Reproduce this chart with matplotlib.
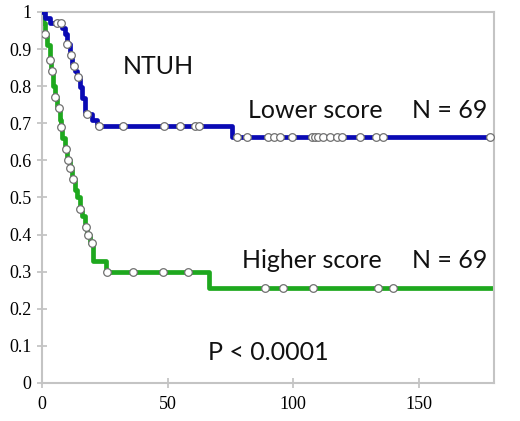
import numpy as np
import matplotlib
matplotlib.use('agg')
import matplotlib.pyplot as plt

# Kaplan-Meier steps (time, survival)
lower_t = [0, 1, 3, 8, 9, 10, 11, 12, 13, 14, 15, 16, 17, 20, 22, 75.5, 180]
lower_s = [1.0, 0.985, 0.971, 0.957, 0.942, 0.913, 0.884, 0.855, 0.841, 0.826,
           0.797, 0.768, 0.725, 0.71, 0.693, 0.664, 0.664]
lower_cens = [6, 7.6, 10, 11.4, 12.9, 14.5, 18, 22.7, 32.3, 48.7, 55, 61, 62.6,
              77.6, 81.5, 90, 92.3, 94.7, 99.5, 107.4, 108.6, 110, 111.8, 114.6,
              117.4, 119.4, 126.5, 133, 135.7, 178.3]

higher_t = [0, 0.5, 1, 2, 3, 3.5, 4.5, 5, 6, 7, 7.5, 8, 9, 10, 11, 12, 13, 14,
            15, 16, 17, 18, 19, 20.3, 25.5, 66.5, 180]
higher_s = [1.0, 0.97, 0.94, 0.91, 0.87, 0.84, 0.80, 0.77, 0.74, 0.71, 0.69, 0.66,
            0.63, 0.60, 0.58, 0.55, 0.52, 0.50, 0.47, 0.45, 0.42, 0.40, 0.377,
            0.33, 0.30, 0.256, 0.256]
higher_cens = [1.2, 3.2, 4, 5.2, 6.8, 7.6, 9.5, 10.3, 11.1, 12.5, 15.1, 17.5,
               18.3, 19.9, 25.8, 36.3, 48, 58, 89, 96, 108, 134, 139.7]

x_ticks = [0, 50, 100, 150]
y_ticks = [0, 0.1, 0.2, 0.3, 0.4, 0.5, 0.6, 0.7, 0.8, 0.9, 1]
y_labels = ['0', '0.1', '0.2', '0.3', '0.4', '0.5', '0.6', '0.7', '0.8', '0.9', '1']


def surv_at(t_steps, s_steps, t):
    idx = np.searchsorted(t_steps, t, side='right') - 1
    return np.array(s_steps)[idx]


fig = plt.figure(figsize=(5.2, 4.21), dpi=100)
ax = fig.add_axes([0.0808, 0.0903, 0.8692, 0.8812])

green = '#1ea81e'
blue = '#0a0ab4'

ax.step(higher_t, higher_s, where='post', color=green, lw=3.4, zorder=2)
ax.step(lower_t, lower_s, where='post', color=blue, lw=3.4, zorder=3)
ax.plot(higher_cens, surv_at(higher_t, higher_s, higher_cens), 'o', ls='none',
        ms=5.5, mfc='white', mec='#707070', mew=0.9, zorder=4)
ax.plot(lower_cens, surv_at(lower_t, lower_s, lower_cens), 'o', ls='none',
        ms=5.5, mfc='white', mec='#707070', mew=0.9, zorder=4)

txt = dict(family=['Lato', 'DejaVu Sans'], fontsize=18, color='#111111', va='baseline')
ax.text(32, 0.833, 'NTUH', ha='left', **txt)
ax.text(82, 0.714, 'Lower score', ha='left', **txt)
ax.text(177.5, 0.714, 'N = 69', ha='right', **txt)
ax.text(79.6, 0.31, 'Higher score', ha='left', **txt)
ax.text(177.5, 0.31, 'N = 69', ha='right', **txt)
ax.text(66, 0.062, 'P < 0.0001', ha='left', **txt)

ax.set_xlim(0, 180)
ax.set_ylim(0, 1)
ax.set_xticks(x_ticks)
ax.set_xticklabels([str(v) for v in x_ticks])
ax.set_yticks(y_ticks)
ax.set_yticklabels(y_labels)
for lab in ax.get_xticklabels() + ax.get_yticklabels():
    lab.set_family('Liberation Serif')
    lab.set_fontsize(13)
ax.tick_params(direction='inout', length=7, width=1.2, color='#c0c0c0', pad=4)
ax.tick_params(axis='x', pad=6)
for sp in ax.spines.values():
    sp.set_color('#c4c4c4')
    sp.set_linewidth(1.5)

fig.savefig('out.png', dpi=100)
